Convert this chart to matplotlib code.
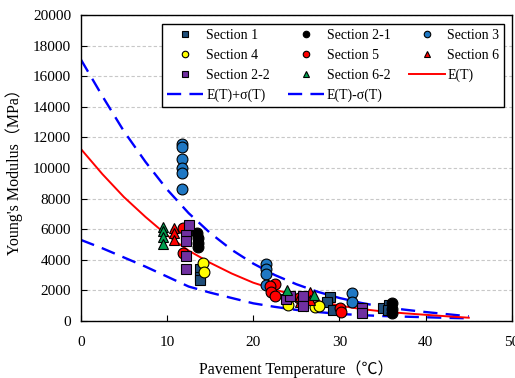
import matplotlib
matplotlib.use('Agg')
import matplotlib.pyplot as plt

plt.rcParams['font.family'] = ['Liberation Serif', 'Noto Sans CJK JP']
plt.rcParams['axes.unicode_minus'] = False

# measured moduli by section (temperature in C, modulus in MPa)
s1_t = [13.8, 13.8, 13.8, 28.9, 28.6, 29.2, 35.0, 35.8, 35.6]
s1_e = [3400, 2900, 2650, 1550, 1250, 700, 850, 1050, 700]
s21_t = [13.5, 13.6, 13.6, 13.6, 36.1, 36.1, 36.1]
s21_e = [5750, 5400, 5100, 4850, 1150, 800, 500]
s3_t = [11.7, 11.7, 11.7, 11.7, 11.7, 11.7, 21.5, 21.5, 21.5, 21.5, 31.5, 31.5]
s3_e = [11600, 11400, 10600, 10000, 9700, 8600, 3700, 3400, 3050, 2350, 1800, 1250]
s4_t = [14.2, 14.3, 24.0, 27.2, 27.6]
s4_e = [3800, 3200, 1050, 900, 950]
s5_t = [11.9, 11.9, 22.5, 21.9, 22.1, 22.5, 25.3, 30.1, 30.2]
s5_e = [6100, 4450, 2400, 2300, 1900, 1650, 1500, 850, 600]
s6_t = [10.8, 10.8, 10.8, 25.4, 25.4, 26.6, 26.6]
s6_e = [6100, 5750, 5300, 1650, 1250, 1900, 1400]
s22_t = [12.5, 12.2, 12.2, 12.2, 12.2, 23.8, 24.3, 25.8, 25.8, 32.6, 32.6]
s22_e = [6250, 5600, 5200, 4250, 3400, 1450, 1650, 1600, 950, 850, 550]
s62_t = [9.5, 9.5, 9.5, 9.5, 23.9, 27.1]
s62_e = [6150, 5850, 5500, 5000, 2000, 1700]

# fitted curve and +/- one standard deviation
curve_t = [0, 2.5, 5, 7.5, 10, 12.5, 15, 17.5, 20, 22.5, 25, 27.5, 30, 32.5, 35, 37.5, 40, 42.5, 45]
curve_e = [11250, 9600, 8100, 6800, 5600, 4600, 3800, 3100, 2500, 2050, 1650, 1300, 1000, 780, 620, 500, 400, 300, 210]
upper_e = [17100, 14700, 12400, 10400, 8600, 7050, 5750, 4650, 3750, 3000, 2400, 1900, 1500, 1180, 920, 740, 580, 440, 300]
lower_e = [5300, 4750, 4150, 3550, 2900, 2250, 1850, 1500, 1150, 920, 720, 580, 460, 380, 320, 280, 240, 200, 170]

fig = plt.figure(figsize=(5.15, 3.78), dpi=100)
ax = fig.add_axes([0.157, 0.151, 0.837, 0.809])

ax.yaxis.grid(True, color='#c8c8c8', linestyle=(0, (3, 2)), linewidth=0.8)
ax.set_axisbelow(True)

up, = ax.plot(curve_t, upper_e, color='#0000ff', lw=1.7, dashes=(6, 3.5), label='E(T)+σ(T)')
lo, = ax.plot(curve_t, lower_e, color='#0000ff', lw=1.7, dashes=(6, 3.5), label='E(T)-σ(T)')
et, = ax.plot(curve_t, curve_e, color='#ff0000', lw=1.4, label='E(T)')

mk = dict(linestyle='none', markersize=7.8, markeredgecolor='black', markeredgewidth=0.8)
h1, = ax.plot(s1_t, s1_e, marker='s', color='#1f4e79', label='Section 1', **mk)
h21, = ax.plot(s21_t, s21_e, marker='o', color='black', label='Section 2-1', **mk)
h3, = ax.plot(s3_t, s3_e, marker='o', color='#1f78c4', label='Section 3', **mk)
h4, = ax.plot(s4_t, s4_e, marker='o', color='#ffff00', label='Section 4', **mk)
h5, = ax.plot(s5_t, s5_e, marker='o', color='#ff0000', label='Section 5', **mk)
h6, = ax.plot(s6_t, s6_e, marker='^', color='#ff0000', label='Section 6', **mk)
h22, = ax.plot(s22_t, s22_e, marker='s', color='#7030a0', label='Section 2-2', **mk)
h62, = ax.plot(s62_t, s62_e, marker='^', color='#00a050', label='Section 6-2', **mk)

ax.set_xlim(0, 50)
ax.set_ylim(0, 20000)
ax.set_xticks(range(0, 51, 10))
ax.set_yticks(range(0, 20001, 2000))
ax.tick_params(axis='both', direction='in', labelsize=11, length=4)
ax.tick_params(axis='x', pad=11)
ax.tick_params(axis='y', pad=7)
for sp in ax.spines.values():
    sp.set_linewidth(1.0)

ax.set_xlabel('Pavement Temperature（℃）', fontsize=11.5, labelpad=8)
ax.set_ylabel("Young's Modulus（MPa）", fontsize=11.5, labelpad=7)

# column-major order so rows read S1/S2-1/S3, S4/S5/S6, S2-2/S6-2/E(T), +σ/-σ
handles = [h1, h4, h22, up, h21, h5, h62, lo, h3, h6, et]
leg = ax.legend(handles=handles, labels=[h.get_label() for h in handles], ncol=3,
                loc='upper right', bbox_to_anchor=(0.992, 0.985), fontsize=10,
                frameon=True, fancybox=False, edgecolor='black', framealpha=1,
                markerscale=0.6, handlelength=2.6, labelspacing=0.5,
                columnspacing=1.3, handletextpad=0.2, borderpad=0.35,
                borderaxespad=0.3)
leg.get_frame().set_linewidth(1.0)

fig.savefig('out.png', dpi=100)
